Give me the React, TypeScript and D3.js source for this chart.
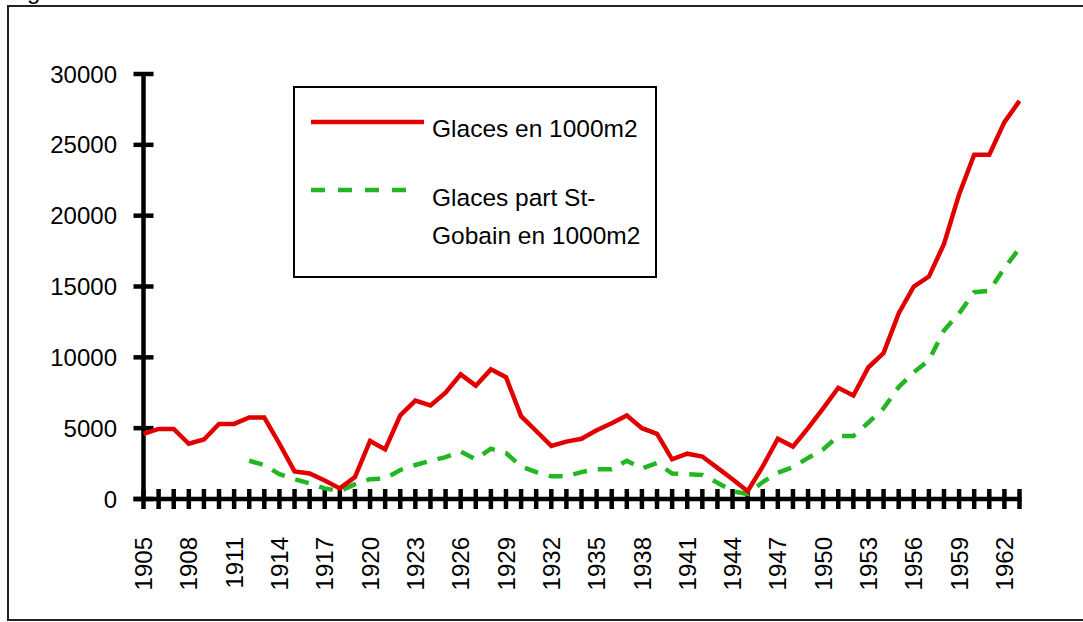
import React from "react";
import * as d3 from "d3";

const years = [
  1905, 1906, 1907, 1908, 1909, 1910, 1911, 1912, 1913, 1914,
  1915, 1916, 1917, 1918, 1919, 1920, 1921, 1922, 1923, 1924,
  1925, 1926, 1927, 1928, 1929, 1930, 1931, 1932, 1933, 1934,
  1935, 1936, 1937, 1938, 1939, 1940, 1941, 1942, 1943, 1944,
  1945, 1946, 1947, 1948, 1949, 1950, 1951, 1952, 1953, 1954,
  1955, 1956, 1957, 1958, 1959, 1960, 1961, 1962, 1963,
];

const glaces = [
  4600, 4950, 4950, 3900, 4200, 5300, 5300, 5750, 5750, 3900,
  1950, 1800, 1300, 750, 1550, 4100, 3500, 5900, 6950, 6600,
  7500, 8800, 8000, 9150, 8600, 5850, 4800, 3750, 4050, 4250,
  4850, 5350, 5900, 5000, 4600, 2800, 3200, 3000, 2200, 1400,
  550, 2300, 4250, 3700, 5000, 6400, 7850, 7300, 9300, 10300,
  13100, 15000, 15700, 18000, 21500, 24300, 24300, 26600, 28100,
];

const stGobain: (number | null)[] = [
  null, null, null, null, null, null, null, 2700, 2400, 1750,
  1400, 1100, 750, 550, 1050, 1400, 1450, 2050, 2400, 2700,
  2950, 3350, 2800, 3550, 3250, 2300, 1900, 1600, 1600, 1900,
  2100, 2100, 2700, 2150, 2550, 1800, 1750, 1700, 1150, 550,
  350, 1200, 1850, 2250, 2900, 3500, 4450, 4450, 5400, 6400,
  7900, 8950, 9800, 11900, 13100, 14600, 14700, 16300, 17700,
];

const yTicks = [0, 5000, 10000, 15000, 20000, 25000, 30000];
const xLabelYears = [1905, 1908, 1911, 1914, 1917, 1920, 1923, 1926, 1929, 1932, 1935, 1938, 1941, 1944, 1947, 1950, 1953, 1956, 1959, 1962];

const seriesNames = ["Glaces en 1000m2", "Glaces part St-", "Gobain en 1000m2"];

const W = 1083;
const H = 622;
const FONT = "'Liberation Sans', Arial, sans-serif";

export default function App() {
  const x = d3.scaleLinear().domain([1905, 1963]).range([143.5, 1019.5]);
  const y = d3.scaleLinear().domain([0, 30000]).range([499, 74]);

  const redLine = d3
    .line<number>()
    .x((_, i) => x(years[i]))
    .y((d) => y(d));

  const greenLine = d3
    .line<number | null>()
    .defined((d) => d !== null)
    .x((_, i) => x(years[i]))
    .y((d) => y(d as number));

  const axisW = 4.5;

  return (
    <svg
      width={W}
      height={H}
      style={{ position: "absolute", left: 0, top: 0, background: "#fff" }}
      fontFamily={FONT}
    >
      <rect x={0} y={0} width={W} height={H} fill="#fff" />
      {/* clipped title remnant */}
      <text x={27} y={-1} fontSize={24} fill="#000">g</text>
      {/* outer frame */}
      <rect x={8} y={6} width={1090} height={614} fill="none" stroke="#222" strokeWidth={2} />

      {/* y axis */}
      <line x1={x(1905)} x2={x(1905)} y1={y(30000)} y2={y(0)} stroke="#000" strokeWidth={axisW} />
      {yTicks.map((t) => (
        <g key={t}>
          <line x1={x(1905) - 10} x2={x(1905) + 10} y1={y(t)} y2={y(t)} stroke="#000" strokeWidth={axisW} />
          <text x={117} y={y(t)} dy="0.36em" textAnchor="end" fontSize={24} fill="#000">
            {t}
          </text>
        </g>
      ))}

      {/* x axis */}
      <line x1={x(1905) - 10} x2={x(1963) + 2} y1={y(0)} y2={y(0)} stroke="#000" strokeWidth={axisW} />
      {years.map((yr) => (
        <line key={yr} x1={x(yr)} x2={x(yr)} y1={y(0) - 10} y2={y(0) + 10} stroke="#000" strokeWidth={axisW} />
      ))}
      {xLabelYears.map((yr) => (
        <text
          key={yr}
          transform={`translate(${x(yr)},537) rotate(-90)`}
          dy="0.36em"
          textAnchor="end"
          fontSize={24}
          fill="#000"
        >
          {yr}
        </text>
      ))}

      {/* series */}
      <path d={greenLine(stGobain) || ""} fill="none" stroke="#22b722" strokeWidth={4.5} strokeDasharray="14 11" />
      <path d={redLine(glaces) || ""} fill="none" stroke="#e00000" strokeWidth={4.5} strokeLinejoin="miter" />

      {/* legend */}
      <rect x={294} y={87} width={362} height={190} fill="#fff" stroke="#000" strokeWidth={2} />
      <line x1={311} x2={424} y1={122} y2={122} stroke="#e00000" strokeWidth={4.5} />
      <line x1={311} x2={406} y1={190} y2={190} stroke="#22b722" strokeWidth={4.5} strokeDasharray="14 13" />
      <text x={432} y={137} fontSize={24.5} fill="#000">{seriesNames[0]}</text>
      <text x={432} y={206} fontSize={24.5} fill="#000">{seriesNames[1]}</text>
      <text x={432} y={244} fontSize={24.5} fill="#000">{seriesNames[2]}</text>
    </svg>
  );
}
